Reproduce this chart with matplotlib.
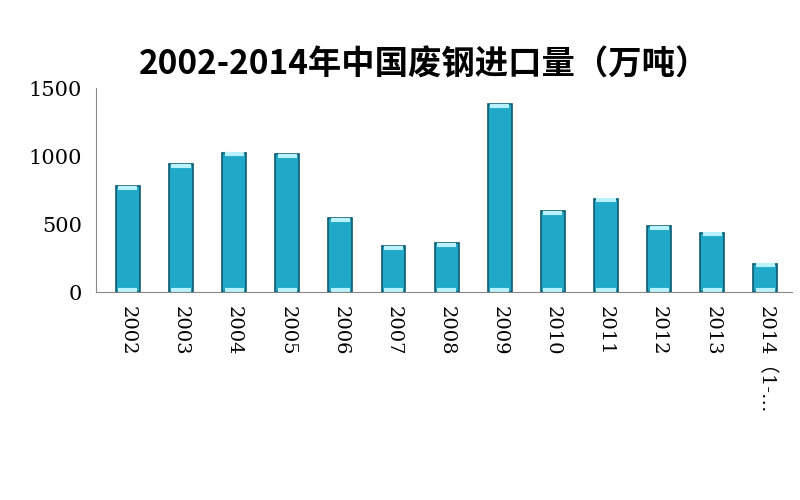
import matplotlib
matplotlib.use("Agg")
import matplotlib.pyplot as plt

years = ["2002","2003","2004","2005","2006","2007","2008","2009","2010","2011","2012","2013","2014（1-…"]
values = [780, 940, 1025, 1015, 545, 338, 360, 1380, 595, 685, 485, 435, 208]

fig = plt.figure(figsize=(8, 5), dpi=100)
ax = fig.add_axes([0.12, 0.416, 0.87, 0.408])
x = range(len(years))
ax.bar(x, values, width=0.45, color="#1fa8c8", edgecolor="#0d5a6e", linewidth=1.2)
# light highlights at bar ends
for xi, v in zip(x, values):
    ax.plot([xi-0.18, xi+0.18], [v-12, v-12], color="#b8f2ff", lw=3, solid_capstyle="butt")
    ax.plot([xi-0.18, xi+0.18], [12, 12], color="#b8f2ff", lw=3, solid_capstyle="butt")
ax.set_ylim(0, 1500)
ax.set_xlim(-0.6, len(years)-0.5)
ax.set_yticks([0, 500, 1000, 1500])
ax.set_yticklabels(["0", "500", "1000", "1500"], family="DejaVu Serif", fontsize=15)
ax.set_xticks(list(x))
ax.set_xticklabels(years, rotation=-90, family=["DejaVu Serif", "Noto Sans CJK SC"], fontsize=14, va="top")
ax.tick_params(axis="both", length=0, pad=10)
for s in ["top", "right"]:
    ax.spines[s].set_visible(False)
ax.spines["left"].set_color("#888888")
ax.spines["bottom"].set_color("#888888")
fig.text(0.53, 0.87, "2002-2014年中国废钢进口量（万吨）", ha="center", va="center",
         fontsize=24, fontweight="bold", family=["Noto Sans CJK SC", "DejaVu Sans"])
fig.savefig("out.png")
